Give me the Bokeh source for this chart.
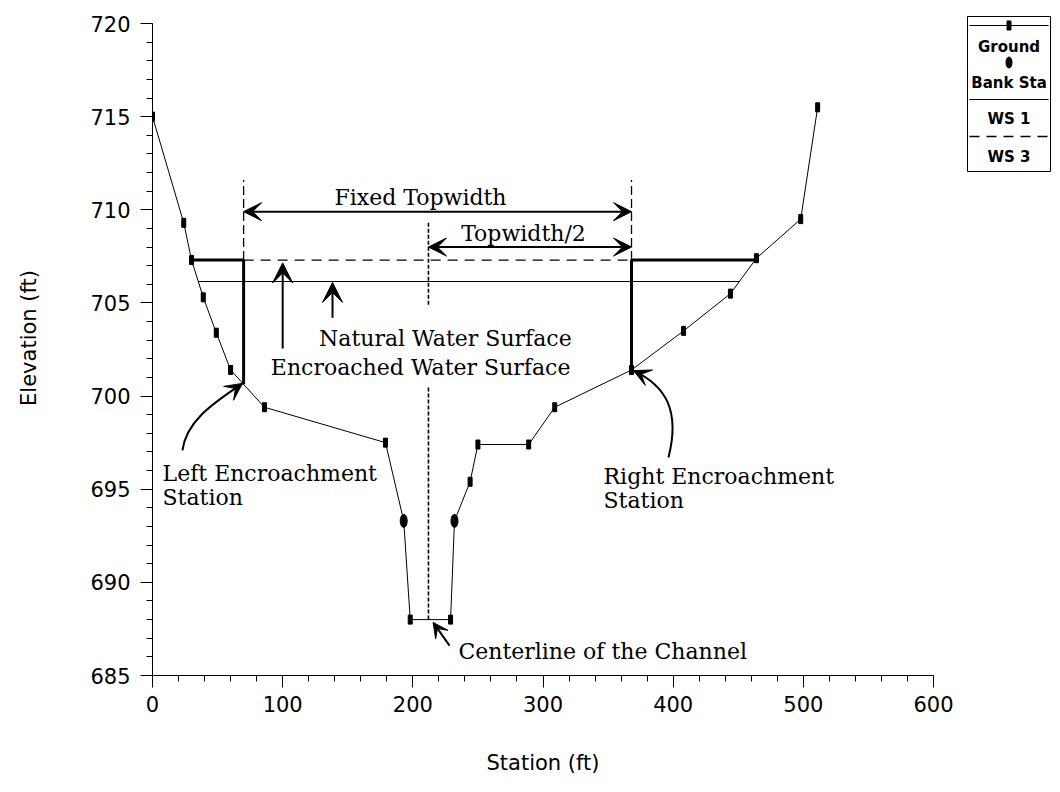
import numpy as np
from bokeh.plotting import figure
from bokeh.models import Range1d, Label, Arrow, VeeHead, FixedTicker
from bokeh.layouts import row
from bokeh.embed import file_html
from bokeh.resources import INLINE

# ---------------- data ----------------
station = [0, 24, 30, 39, 49, 60, 86, 179, 193, 198, 229, 232, 244, 250,
           289, 309, 368, 408, 444, 464, 498, 511]
elevation = [715.0, 709.3, 707.3, 705.3, 703.4, 701.4, 699.4, 697.5, 693.3,
             688.0, 688.0, 693.3, 695.4, 697.4, 697.4, 699.4, 701.4, 703.5,
             705.5, 707.4, 709.5, 715.5]
bank_station = [193, 232]
bank_elev = [693.3, 693.3]
ws1_level = 706.15          # natural water surface
ws3_level = 707.3           # encroached water surface
encroach_sta = [70, 368]    # left / right encroachment stations
centerline_sta = 212
x_ticks = [0, 100, 200, 300, 400, 500, 600]
y_ticks = [685, 690, 695, 700, 705, 710, 715, 720]
legend_labels = ["Ground", "Bank Sta", "WS 1", "WS 3"]

SERIF = "DejaVu Serif"
SANS = "DejaVu Sans"

# layout (pixels): axis box from y=23 (720 ft) to y=675 (685 ft); the frame itself
# starts at the very top so the legend panel (aligned with it) can use the top margin.
Y_LO, Y_HI = 685, 720
AX_TOP, AX_BOT = 23, 675
px_per_ft = (AX_BOT - AX_TOP) / (Y_HI - Y_LO)
y_top = Y_HI + AX_TOP / px_per_ft


def ground_crossings(level):
    """Left / right stations where the ground profile reaches `level`."""
    xs, ys = np.array(station, float), np.array(elevation, float)
    left = right = None
    for i in range(len(xs) - 1):
        y0, y1 = ys[i], ys[i + 1]
        if (y0 - level) * (y1 - level) <= 0 and y0 != y1:
            xc = xs[i] + (level - y0) * (xs[i + 1] - xs[i]) / (y1 - y0)
            if left is None:
                left = xc
            right = xc
    return left, right


def ground_at(x):
    return float(np.interp(x, station, elevation))


p = figure(width=960, height=784, x_range=Range1d(0, 600), y_range=Range1d(Y_LO, y_top),
           output_backend="svg", toolbar_location=None,
           min_border_left=152, min_border_right=27, min_border_top=0, min_border_bottom=109,
           x_axis_label="Station (ft)", y_axis_label="Elevation (ft)")
p.title.visible = False
p.outline_line_color = None
p.xgrid.visible = False
p.ygrid.visible = False
p.background_fill_color = "white"
p.border_fill_color = "white"

p.xaxis.ticker = FixedTicker(ticks=x_ticks, minor_ticks=list(range(0, 601, 20)))
p.yaxis.ticker = FixedTicker(ticks=y_ticks, minor_ticks=list(range(685, 721, 1)))
p.yaxis.bounds = (Y_LO, Y_HI)
for ax in (p.xaxis, p.yaxis):
    ax.axis_line_color = "black"
    ax.axis_line_width = 1
    ax.major_tick_line_color = "black"
    ax.minor_tick_line_color = "black"
    ax.major_tick_out = 12
    ax.major_tick_in = 0
    ax.minor_tick_out = 6
    ax.minor_tick_in = 0
    ax.major_label_text_font = SANS
    ax.major_label_text_font_size = "21px"
    ax.major_label_text_color = "black"
    ax.axis_label_text_font = SANS
    ax.axis_label_text_font_size = "21px"
    ax.axis_label_text_font_style = "normal"
    ax.axis_label_text_color = "black"
p.xaxis.major_label_standoff = 8
p.xaxis.axis_label_standoff = 36
p.yaxis.major_label_standoff = 10
p.yaxis.axis_label_standoff = 46

# ground profile
p.line(station, elevation, line_color="black", line_width=1)
p.rect(station, elevation, width=4, height=9, width_units="screen", height_units="screen",
       fill_color="black", line_color="black")
p.ellipse(bank_station, bank_elev, width=7, height=13, width_units="screen",
          height_units="screen", fill_color="black", line_color="black")

# natural water surface (WS 1)
w1l, w1r = ground_crossings(ws1_level)
p.line([w1l, w1r], [ws1_level, ws1_level], line_color="black", line_width=1)

# encroached water surface (WS 3)
w3l, w3r = ground_crossings(ws3_level)
el, er = encroach_sta
p.line([el, er], [ws3_level, ws3_level], line_color="black", line_width=1.3, line_dash="10 7")
p.line([w3l, el, el], [ws3_level, ws3_level, ground_at(el)], line_color="black", line_width=3)
p.line([w3r, er, er], [ws3_level, ws3_level, ground_at(er)], line_color="black", line_width=3)

# topwidth limit lines
p.segment(x0=[el, er], y0=[ws3_level, ws3_level], x1=[el, er], y1=[711.6, 711.6],
          line_color="black", line_width=1.3, line_dash="9 4")
# centerline of the channel
p.segment(x0=[centerline_sta, centerline_sta], y0=[688.0, 704.9],
          x1=[centerline_sta, centerline_sta], y1=[700.5, 709.4],
          line_color="black", line_width=1.6, line_dash="4 2")


def vee(size):
    return VeeHead(size=size, fill_color="black", line_color="black")


# dimension arrows
p.add_layout(Arrow(start=vee(18), end=vee(18), x_start=el, y_start=709.9, x_end=er, y_end=709.9,
                   line_color="black", line_width=2))
p.add_layout(Arrow(start=vee(18), end=vee(18), x_start=centerline_sta, y_start=708.0, x_end=er,
                   y_end=708.0, line_color="black", line_width=2))
# pointer arrows to the water surfaces
p.add_layout(Arrow(end=vee(20), x_start=100, y_start=702.55, x_end=100, y_end=ws3_level - 0.15,
                   line_color="black", line_width=2))
p.add_layout(Arrow(end=vee(20), x_start=138.3, y_start=704.2, x_end=138.3, y_end=ws1_level - 0.05,
                   line_color="black", line_width=2))

# curved arrows to encroachment stations
curves = [
    # x0, y0, cx0, cy0, cx1, cy1, x1, y1
    (23.0, 697.08, 26.1, 698.8, 50.7, 699.76, 69.1, 700.68),
    (396.4, 696.70, 405.6, 699.23, 394.1, 700.57, 369.5, 701.37),
]
for (x0, y0, cx0, cy0, cx1, cy1, x1, y1) in curves:
    p.bezier(x0=[x0], y0=[y0], cx0=[cx0], cy0=[cy0], cx1=[cx1], cy1=[cy1], x1=[x1], y1=[y1],
             line_color="black", line_width=2)
    p.add_layout(Arrow(end=vee(17), x_start=cx1, y_start=cy1, x_end=x1, y_end=y1,
                       line_alpha=0, line_width=0))
# centerline pointer
p.add_layout(Arrow(end=vee(15), x_start=228.2, y_start=686.6, x_end=215.6, y_end=687.85,
                   line_color="black", line_width=2))

# annotation texts
def lab(x, y, text, align="center"):
    p.add_layout(Label(x=x, y=y, text=text, text_font=SERIF, text_font_size="22px",
                       text_align=align, text_baseline="middle", text_color="black"))


lab(205.9, 710.65, "Fixed Topwidth")
lab(285.0, 708.75, "Topwidth/2")
lab(225.0, 703.1, "Natural Water Surface")
lab(206.0, 701.55, "Encroached Water Surface")
lab(7.7, 695.85, "Left Encroachment", "left")
lab(7.7, 694.55, "Station", "left")
lab(346.5, 695.7, "Right Encroachment", "left")
lab(346.5, 694.4, "Station", "left")
lab(235.0, 686.3, "Centerline of the Channel", "left")

# ---------------- legend panel (page pixel coordinates) ----------------
leg = figure(width=92, height=784, x_range=Range1d(960, 1052), y_range=Range1d(AX_BOT, 0),
             output_backend="svg", toolbar_location=None, x_axis_type=None, y_axis_type=None,
             min_border_left=0, min_border_right=0, min_border_top=0, min_border_bottom=0)
leg.title.visible = False
leg.outline_line_color = None
leg.background_fill_color = "white"
leg.border_fill_color = "white"
leg.xgrid.visible = False
leg.ygrid.visible = False

bx0, bx1, by0, by1 = 967, 1050, 16, 171
leg.line([bx0, bx1, bx1, bx0, bx0], [by0, by0, by1, by1, by0], line_color="black", line_width=1)
cx = (bx0 + bx1) / 2
leg.line([bx0 + 2, bx1 - 2], [25, 25], line_color="black", line_width=1)
leg.rect([cx], [25], width=4, height=9, width_units="screen", height_units="screen",
         fill_color="black", line_color="black")
leg.ellipse([cx], [62], width=6, height=11, width_units="screen", height_units="screen",
            fill_color="black", line_color="black")
leg.line([bx0 + 2, bx1 - 2], [99, 99], line_color="black", line_width=1)
leg.line([bx0 + 2, bx1 - 2], [136, 136], line_color="black", line_width=1.3, line_dash="10 7")
for ty, txt in zip([46, 82, 118, 156], legend_labels):
    leg.add_layout(Label(x=cx, y=ty, text=txt, text_font=SANS, text_font_size="15px",
                         text_font_style="bold", text_align="center", text_baseline="middle",
                         text_color="black"))

layout = row(p, leg)
open("out.html", "w").write(file_html(layout, INLINE))
